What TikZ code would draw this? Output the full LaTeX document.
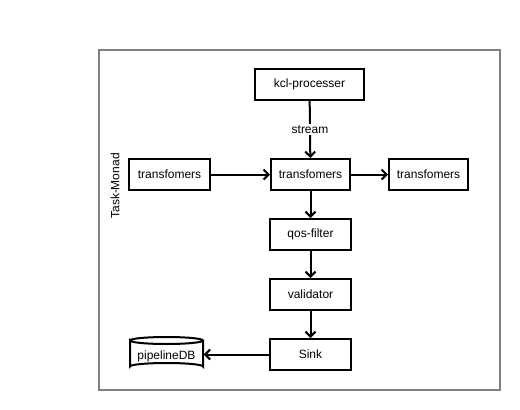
\documentclass[tikz,border=0pt]{standalone}
\usepackage{fontspec}
\setmainfont{Liberation Sans}
\usetikzlibrary{arrows.meta}
\begin{document}
\begin{tikzpicture}[x=1pt,y=-1pt,
  box/.style={draw=black,line width=2pt,minimum width=80pt,minimum height=31pt,inner sep=0pt,font=\fontsize{12}{14}\selectfont},
  conn/.style={line width=2pt,-{Straight Barb[length=5pt,width=10pt,line width=2pt]}},
  lbl/.style={font=\fontsize{12}{14}\selectfont}]
\useasboundingbox (0,0) rectangle (520,410);
\draw[draw={rgb,255:red,128;green,128;blue,128},line width=2.2pt] (99,50) rectangle (500,390);
\node[lbl,rotate=90] (tm) at (115,186) {Task-Monad};
\node[box,minimum width=109pt] (kcl) at (309.5,84.5) {kcl-processer};
\node[box,minimum width=79pt] (tc) at (310.5,174.5) {transfomers};
\node[box,minimum width=81pt] (tl) at (169.5,174.5) {transfomers};
\node[box,minimum width=79pt] (tr) at (428.5,174.5) {transfomers};
\node[box,minimum width=81pt] (qos) at (310.5,234.5) {qos-filter};
\node[box,minimum width=81pt] (val) at (310.5,294.5) {validator};
\node[box,minimum width=81pt] (sink) at (310.5,354.5) {Sink};
\node[lbl,minimum width=74pt,minimum height=33pt,inner sep=0pt] (db) at (166.5,354.5) {};
\draw[line width=2pt] (130,340.5) arc[start angle=180,end angle=360,x radius=36.5,y radius=3.5]
  arc[start angle=0,end angle=180,x radius=36.5,y radius=3.5] -- (130,366.5)
  arc[start angle=180,end angle=360,x radius=36.5,y radius=3.5] -- (203,340.5);
\node[lbl] at (166.5,356) {pipelineDB};
\draw[conn] (kcl) -- node[lbl,fill=white,inner sep=2pt] {stream} (tc);
\draw[conn] (tl) -- (tc);
\draw[conn] (tc) -- (tr);
\draw[conn] (tc) -- (qos);
\draw[conn] (qos) -- (val);
\draw[conn] (val) -- (sink);
\draw[conn] (sink) -- (db);
\end{tikzpicture}
\end{document}
